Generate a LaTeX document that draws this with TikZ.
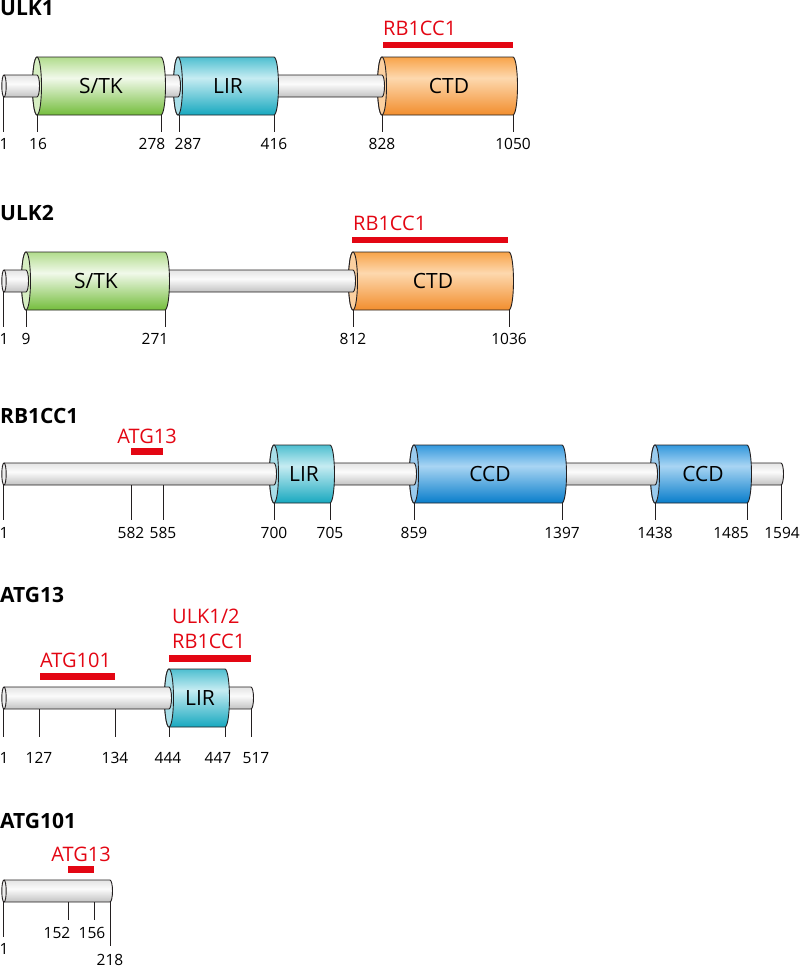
\documentclass[tikz,border=0pt]{standalone}
\usepackage{fontspec}
\setmainfont{Open Sans}
\usepackage{tikz}
\usetikzlibrary{calc}

\definecolor{outline}{HTML}{231F20}
\definecolor{bindred}{HTML}{E30613}
\definecolor{gtop}{HTML}{B1DC8C}\definecolor{glight}{HTML}{F1F9EA}\definecolor{gbot}{HTML}{74BD3C}\definecolor{gface}{HTML}{D6EEC2}
\definecolor{ctop}{HTML}{4EBFD0}\definecolor{clight}{HTML}{C6ECF2}\definecolor{cbot}{HTML}{17A8BF}\definecolor{cface}{HTML}{A8DEE8}
\definecolor{otop}{HTML}{F8A44A}\definecolor{olight}{HTML}{FDD8AE}\definecolor{obot}{HTML}{F28E2E}\definecolor{oface}{HTML}{FBD0A0}
\definecolor{btop}{HTML}{3398DD}\definecolor{blight}{HTML}{A9D5F3}\definecolor{bbot}{HTML}{087DCB}\definecolor{bface}{HTML}{9ACBEE}
\definecolor{rtop}{HTML}{E4E4E4}\definecolor{rlight}{HTML}{FBFBFB}\definecolor{rbot}{HTML}{C2C2C2}\definecolor{rface}{HTML}{EDEDED}

\pgfdeclareverticalshading{stkshade}{100bp}{color(0bp)=(gbot); color(25bp)=(gbot); color(57bp)=(glight); color(75bp)=(gtop); color(100bp)=(gtop)}
\pgfdeclareverticalshading{lirshade}{100bp}{color(0bp)=(cbot); color(25bp)=(cbot); color(57bp)=(clight); color(75bp)=(ctop); color(100bp)=(ctop)}
\pgfdeclareverticalshading{ctdshade}{100bp}{color(0bp)=(obot); color(25bp)=(obot); color(57bp)=(olight); color(75bp)=(otop); color(100bp)=(otop)}
\pgfdeclareverticalshading{ccdshade}{100bp}{color(0bp)=(bbot); color(25bp)=(bbot); color(57bp)=(blight); color(75bp)=(btop); color(100bp)=(btop)}
\pgfdeclareverticalshading{rodshade}{100bp}{color(0bp)=(rbot); color(25bp)=(rbot); color(55bp)=(rlight); color(75bp)=(rtop); color(100bp)=(rtop)}

% domain: face centre x, right end x, centre y, shading, face colour
\def\domain(#1:#2:#3)[#4][#5]{%
	\shade[shading=#4, draw=outline, line width=0.9pt] (#1,{#3-29}) -- (#2,{#3-29}) arc[start angle=-90, end angle=90, x radius=4.5, y radius=29] -- (#1,{#3+29}) arc[start angle=90, end angle=270, x radius=4.5, y radius=29] -- cycle;
	\draw[fill=#5, draw=outline, line width=0.9pt] (#1,#3) ellipse[x radius=4.5, y radius=29];}
% rod piece: start x (hidden), end x, centre y
\def\rod(#1:#2:#3){%
	\shade[shading=rodshade, draw=outline, line width=0.9pt] (#1,{#3-11}) -- (#2,{#3-11}) arc[start angle=-90, end angle=90, x radius=2.5, y radius=11] -- (#1,{#3+11});}
\def\rodstart(#1){\draw[fill=rface, draw=outline, line width=0.9pt] (4,#1) ellipse[x radius=2.2, y radius=11];}

\tikzset{
	title/.style={anchor=base west, inner sep=0pt, font=\fontsize{21}{25}\selectfont\bfseries},
	partner/.style={anchor=base west, inner sep=0pt, text=bindred, font=\fontsize{20}{24}\selectfont},
	dlabel/.style={anchor=base, inner sep=0pt, font=\fontsize{21}{25}\selectfont},
	ticklabel/.style={anchor=base, inner sep=0pt, font=\fontsize{15.5}{18}\selectfont},
	tick/.style={draw=outline, line width=0.8pt},
	bar/.style={fill=bindred}
}

\begin{document}
\begin{tikzpicture}[x=1pt, y=-1pt]
		\useasboundingbox (0,0) rectangle (800,969);
		
		%%%%% ULK1 %%%%%
		\node[title] (ulkone) at (0,16) {ULK1};
		\node[partner] (ulkone-rb) at (383,35) {RB1CC1};
		\fill[bar] (383,42) rectangle (513,48);
		
		\domain(382:513:86)[ctdshade][oface]
		\rod(274:382:86)
		\domain(178:274:86)[lirshade][cface]
		\rod(161:178:86)
		\domain(37:161:86)[stkshade][gface]
		\rod(4:37:86)
		\rodstart(86)
		
		\node[dlabel] (ulkone-stk) at (101,93.5) {S/TK};
		\node[dlabel] (ulkone-lir) at (228,93.5) {LIR};
		\node[dlabel] (ulkone-ctd) at (449,93.5) {CTD};
		
		\foreach \tx/\ty/\lx/\txt in {3/97/4/1, 37/115/38/16, 161/115/152/278, 179/115/188/287, 274/115/274/416, 382/115/382/828, 513/115/513/1050}{
			\draw[tick] (\tx,\ty) -- (\tx,132);
			\node[ticklabel] (ulkone-\txt) at (\lx,149) {\txt};
		}
		
		%%%%% ULK2 %%%%%
		\node[title] (ulktwo) at (0,220) {ULK2};
		\node[partner] (ulktwo-rb) at (353,230) {RB1CC1};
		\fill[bar] (352,237) rectangle (508,243);
		
		\domain(353:509:281)[ctdshade][oface]
		\rod(165:353:281)
		\domain(26:165:281)[stkshade][gface]
		\rod(4:26:281)
		\rodstart(281)
		
		\node[dlabel] (ulktwo-stk) at (96,288.5) {S/TK};
		\node[dlabel] (ulktwo-ctd) at (433,288.5) {CTD};
		
		\foreach \tx/\ty/\lx/\txt in {3/292/4/1, 26/310/26/9, 165/310/155/271, 353/310/353/812, 509/310/509/1036}{
			\draw[tick] (\tx,\ty) -- (\tx,327);
			\node[ticklabel] (ulktwo-\txt) at (\lx,344) {\txt};
		}
		
		%%%%% RB1CC1 %%%%%
		\node[title] (rbcc) at (0,423) {RB1CC1};
		\node[partner, anchor=base] (rbcc-atg) at (147,443) {ATG13};
		\fill[bar] (131,448) rectangle (163,455);
		
		\rod(747:781:474)
		\domain(655:747:474)[ccdshade][bface]
		\rod(562:655:474)
		\domain(414:562:474)[ccdshade][bface]
		\rod(330:414:474)
		\domain(274:330:474)[lirshade][cface]
		\rod(4:274:474)
		\rodstart(474)
		
		\node[dlabel] (rbcc-lir) at (304,481.5) {LIR};
		\node[dlabel] (rbcc-ccda) at (490,481.5) {CCD};
		\node[dlabel] (rbcc-ccdb) at (703,481.5) {CCD};
		
		\foreach \tx/\ty/\lx/\txt in {3/485/4/1, 131/485/131/582, 163/485/163/585, 274/503/274/700, 330/503/330/705, 414/503/414/859, 562/503/562/1397, 655/503/655/1438, 747/503/731/1485, 781/485/782/1594}{
			\draw[tick] (\tx,\ty) -- (\tx,520);
			\node[ticklabel] (rbcc-\txt) at (\lx,538) {\txt};
		}
		
		%%%%% ATG13 %%%%%
		\node[title] (atgtt) at (0,602) {ATG13};
		\node[partner] (atgtt-ulk) at (172,623) {ULK1/2};
		\node[partner] (atgtt-rb) at (172,648) {RB1CC1};
		\fill[bar] (169,655) rectangle (251,662);
		\node[partner] (atgtt-atg) at (40,667) {ATG101};
		\fill[bar] (40,673) rectangle (115,680);
		
		\rod(225:251:698)
		\domain(169:225:698)[lirshade][cface]
		\rod(4:169:698)
		\rodstart(698)
		
		\node[dlabel] (atgtt-lir) at (200,705.5) {LIR};
		
		\foreach \tx/\ty/\lx/\txt in {3/709/4/1, 39/709/39/127, 115/709/115/134, 169/727/168/444, 225/727/218/447, 251/709/256/517}{
			\draw[tick] (\tx,\ty) -- (\tx,737);
			\node[ticklabel] (atgtt-\txt) at (\lx,763) {\txt};
		}
		
		%%%%% ATG101 %%%%%
		\node[title] (atgoo) at (0,828) {ATG101};
		\node[partner, anchor=base] (atgoo-atg) at (81,861) {ATG13};
		\fill[bar] (68,866) rectangle (94,873);
		
		\rod(4:110:891)
		\rodstart(891)
		
		\foreach \tx/\te/\lx/\lb/\txt in {3/937/4/954/1, 68/920/57/938/152, 94/920/92/938/156, 110/946/110/965/218}{
			\draw[tick] (\tx,902) -- (\tx,\te);
			\node[ticklabel] (atgoo-\txt) at (\lx,\lb) {\txt};
		}
		
	\end{tikzpicture}
\end{document}
